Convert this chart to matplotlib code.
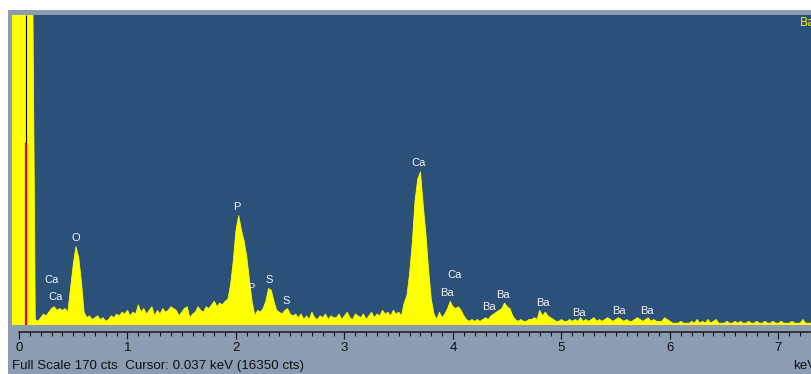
import numpy as np
import matplotlib
matplotlib.use("Agg")
import matplotlib.pyplot as plt
from matplotlib.patches import Rectangle

# spectrum, channel width 0.025 keV starting at -0.075 keV (counts)
e_start = -0.075
e_step = 0.025
counts = [
    200, 200, 200, 200, 200, 200, 200, 200, 200, 3, 2, 4, 6, 5, 7, 9, 10, 8, 9, 8,
    9, 7, 20, 33, 43, 37, 24, 7, 4, 5, 3, 4, 5, 3, 4, 2, 3, 5, 4, 6,
    5, 7, 6, 8, 5, 7, 6, 11, 7, 9, 6, 8, 10, 5, 8, 6, 9, 7, 8, 10,
    9, 8, 5, 7, 9, 10, 4, 6, 7, 10, 8, 7, 10, 9, 11, 13, 10, 12, 11, 13,
    14, 22, 35, 52, 60, 52, 46, 37, 24, 12, 5, 8, 7, 9, 13, 20, 19, 13, 8, 7,
    6, 8, 9, 6, 5, 6, 4, 6, 3, 5, 3, 7, 4, 3, 5, 4, 6, 3, 5, 4,
    4, 6, 3, 5, 7, 4, 3, 6, 5, 4, 6, 3, 5, 7, 4, 6, 5, 8, 6, 7,
    5, 8, 6, 7, 5, 12, 16, 28, 45, 68, 80, 84, 66, 50, 30, 14, 6, 3, 7, 4,
    6, 9, 13, 10, 9, 10, 8, 5, 3, 2, 3, 2, 3, 2, 3, 4, 3, 5, 6, 7,
    8, 9, 12, 10, 9, 5, 3, 2, 3, 2, 2, 3, 3, 4, 3, 8, 5, 7, 5, 4,
    3, 2, 2, 3, 2, 2, 3, 2, 3, 2, 4, 2, 3, 2, 3, 4, 2, 3, 2, 3,
    4, 3, 2, 3, 4, 3, 2, 3, 2, 2, 3, 4, 3, 2, 3, 4, 2, 3, 2, 2,
    2, 4, 3, 2, 1, 1, 1, 2, 1, 1, 1, 2, 1, 3, 1, 2, 1, 3, 1, 2,
    3, 1, 1, 1, 2, 1, 1, 2, 1, 2, 1, 1, 2, 1, 1, 2, 1, 1, 2, 1,
    1, 2, 1, 1, 2, 1, 1, 1, 2, 1, 1, 1, 3, 1, 1, 1, 2, 1, 1, 1,
]
energy = e_start + e_step * np.arange(len(counts))

# peak labels: (text, keV, cts)
peak_names = ["Ca", "Ca", "O", "P", "P", "S", "S", "Ca", "Ca", "Ba", "Ba", "Ba", "Ba", "Ba", "Ba", "Ba"]
peak_kev = [0.304, 0.341, 0.527, 2.012, 2.135, 2.302, 2.458, 3.687, 4.012, 3.942, 4.333, 4.464, 4.827, 5.159, 5.530, 5.791]
peak_cts = [24.8, 15.4, 47.6, 64.6, 20.4, 24.8, 13.2, 88.7, 27.5, 17.6, 9.9, 16.5, 12.2, 6.5, 7.6, 7.6]

full_scale = 170
cursor_kev = 0.06
cursor_cts = 100
xticks = [0, 1, 2, 3, 4, 5, 6, 7]

W, H = 811, 374
fig = plt.figure(figsize=(W / 100, H / 100), dpi=100)
fig.patch.set_facecolor("white")
fig.patches.append(Rectangle((8 / W, 0), 1, 1 - 10 / H, transform=fig.transFigure,
                             facecolor="#8c9db3", edgecolor="none", zorder=-10))

ax = fig.add_axes([12 / W, 1 - 325 / H, (W - 12) / W, 310 / H])
ax.set_facecolor("#2c5179")
ax.fill_between(energy, counts, color="#ffff00", lw=0.6, edgecolor="#ffff00")
ax.set_xlim(-0.0645, 7.2995)
ax.set_ylim(0, full_scale)
ax.vlines(cursor_kev, 0, cursor_cts, color="#e00000", lw=1.6)
ax.vlines(cursor_kev, cursor_cts, full_scale, color="black", lw=0.8)
for s in ax.spines.values():
    s.set_visible(False)
ax.set_xticks([])
ax.set_yticks([])

for name, x, y in zip(peak_names, peak_kev, peak_cts):
    ax.text(x, y, name, color="#f2f2f2", fontsize=8, family="Liberation Sans",
            ha="center", va="center")

# energy scale under the plot
axs = fig.add_axes([12 / W, 1 - 332 / H, (W - 12) / W, 0.001])
axs.set_xlim(-0.0645, 7.2995)
axs.patch.set_visible(False)
for k in ["top", "left", "right"]:
    axs.spines[k].set_visible(False)
axs.spines["bottom"].set_bounds(0, 7.4)
axs.spines["bottom"].set_linewidth(1.1)
axs.spines["bottom"].set_color("#1a1a1a")
axs.set_yticks([])
axs.set_xticks(xticks)
axs.set_xticks(np.arange(0, 7.35, 0.1), minor=True)
axs.tick_params(axis="x", which="major", length=5, width=0.9, color="#1a1a1a",
                pad=2, labelsize=9.5, labelcolor="#111111")
axs.tick_params(axis="x", which="minor", length=3, width=0.8, color="#1a1a1a")
for lab in axs.get_xticklabels():
    lab.set_family("Liberation Sans")

fig.text(12 / W, 1 - 366 / H, "Full Scale 170 cts  Cursor: 0.037 keV (16350 cts)",
         fontsize=9.6, family="Liberation Sans", color="#111111", va="center", ha="left")
fig.text(793 / W, 1 - 366 / H, "keV", fontsize=9.6, family="Liberation Sans",
         color="#111111", va="center", ha="left")
fig.text(800 / W, 1 - 23 / H, "Ba", fontsize=8.5, family="DejaVu Sans",
         color="#e8e800", va="center", ha="left")

fig.savefig("out.png", dpi=100, facecolor=fig.get_facecolor())
